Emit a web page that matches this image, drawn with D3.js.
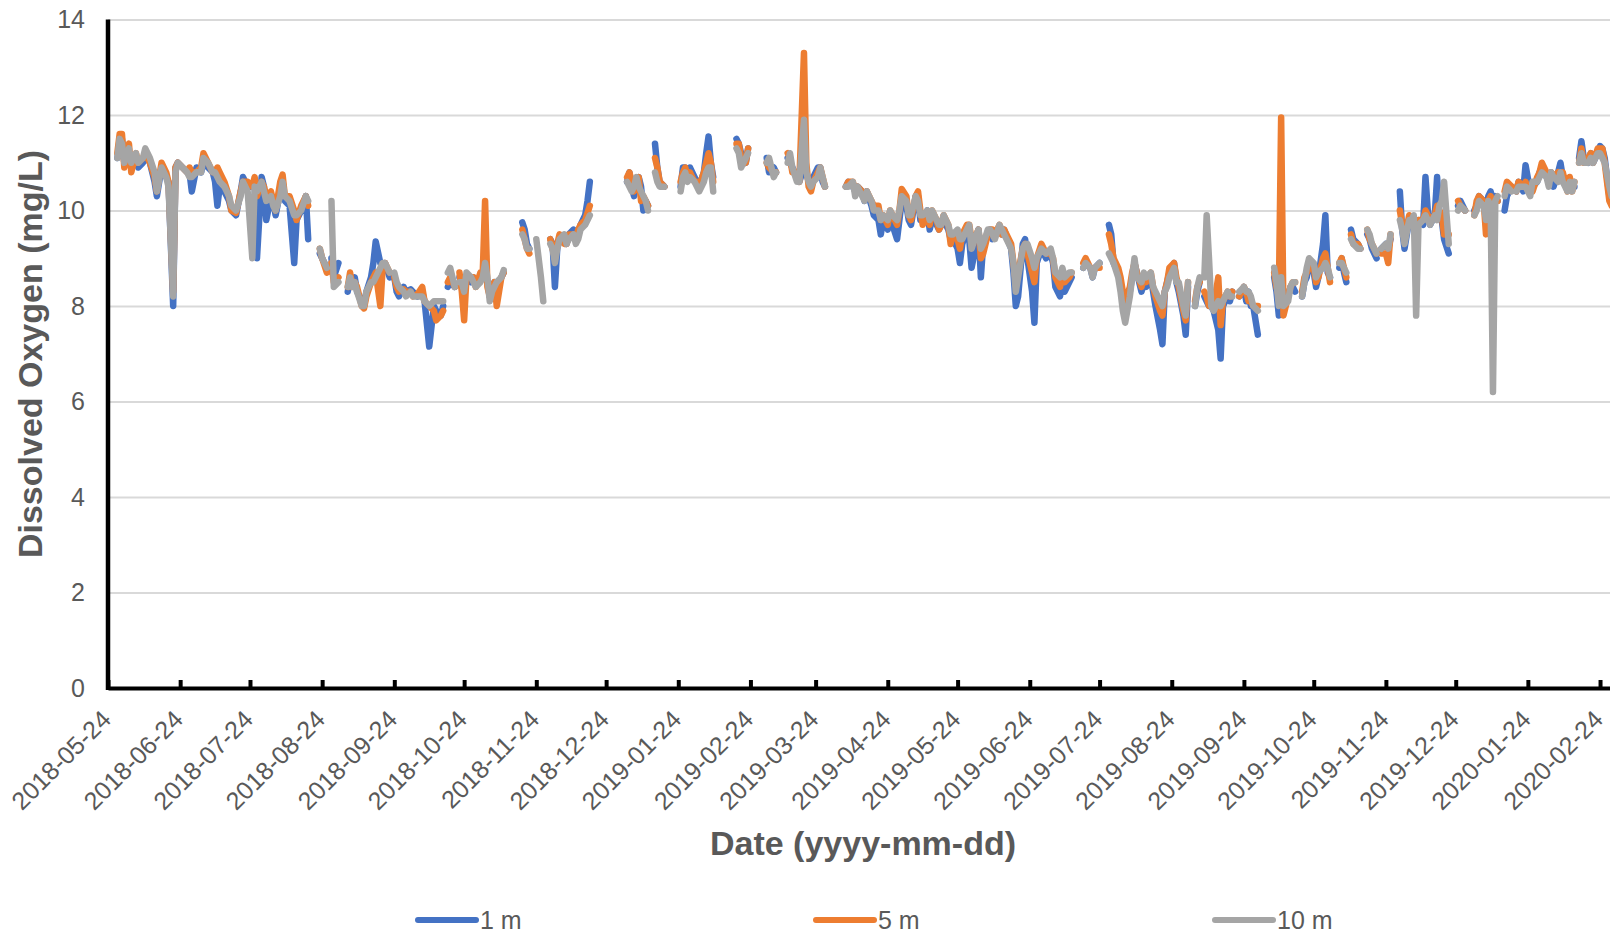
<!DOCTYPE html>
<html>
<head>
<meta charset="utf-8">
<script src="https://cdn.jsdelivr.net/npm/d3@7"></script>
<style>
  body { margin: 0; background: #fff; }
  svg { display: block; font-family: "Liberation Sans", Arial, sans-serif; }
</style>
</head>
<body>
<div id="chart"></div>
<script>
// sampling dates; a date with null in every series marks a break in the record
const dates = [
  "2018-05-28","2018-05-29","2018-05-30","2018-05-31","2018-06-02","2018-06-03","2018-06-05","2018-06-06","2018-06-08","2018-06-09",
  "2018-06-11","2018-06-13","2018-06-14","2018-06-16","2018-06-18","2018-06-19","2018-06-21","2018-06-22","2018-06-23","2018-06-25",
  "2018-06-27","2018-06-28","2018-06-29","2018-07-01","2018-07-03","2018-07-04","2018-07-06","2018-07-08","2018-07-09","2018-07-10",
  "2018-07-11","2018-07-13","2018-07-15","2018-07-16","2018-07-18","2018-07-20","2018-07-21","2018-07-23","2018-07-25","2018-07-26",
  "2018-07-27","2018-07-29","2018-07-30","2018-07-31","2018-08-02","2018-08-03","2018-08-04","2018-08-06","2018-08-07","2018-08-08",
  "2018-08-10","2018-08-12","2018-08-13","2018-08-15","2018-08-17","2018-08-18",
  "2018-08-20",
  "2018-08-23","2018-08-24","2018-08-26",
  "2018-08-27",
  "2018-08-28","2018-08-29","2018-08-31",
  "2018-09-02",
  "2018-09-04","2018-09-05","2018-09-06","2018-09-07","2018-09-08","2018-09-10","2018-09-11","2018-09-12","2018-09-14","2018-09-15",
  "2018-09-16","2018-09-18","2018-09-19","2018-09-20","2018-09-22",
  "2018-09-23",
  "2018-09-24","2018-09-25","2018-09-26","2018-09-28","2018-09-29","2018-10-01","2018-10-02","2018-10-04","2018-10-06","2018-10-07",
  "2018-10-09","2018-10-11","2018-10-12","2018-10-14","2018-10-15",
  "2018-10-16",
  "2018-10-17","2018-10-18","2018-10-20",
  "2018-10-21",
  "2018-10-22","2018-10-23","2018-10-24","2018-10-25","2018-10-27","2018-10-28","2018-10-29","2018-10-31","2018-11-01","2018-11-02",
  "2018-11-03","2018-11-04","2018-11-05","2018-11-06","2018-11-07","2018-11-09","2018-11-10",
  "2018-11-14",
  "2018-11-18","2018-11-19","2018-11-20","2018-11-21",
  "2018-11-22",
  "2018-11-24","2018-11-25","2018-11-26","2018-11-27",
  "2018-11-28",
  "2018-11-30","2018-12-01","2018-12-02","2018-12-03","2018-12-04","2018-12-06","2018-12-07","2018-12-08","2018-12-10","2018-12-11",
  "2018-12-12","2018-12-13","2018-12-15","2018-12-16","2018-12-17",
  "2018-12-25",
  "2019-01-02","2019-01-03","2019-01-04","2019-01-05","2019-01-06","2019-01-07","2019-01-08","2019-01-09","2019-01-10","2019-01-11",
  "2019-01-12",
  "2019-01-14","2019-01-15","2019-01-16","2019-01-18",
  "2019-01-20",
  "2019-01-25","2019-01-26","2019-01-27","2019-01-28","2019-01-29","2019-01-31","2019-02-01","2019-02-02","2019-02-04","2019-02-05",
  "2019-02-06","2019-02-07","2019-02-08",
  "2019-02-12",
  "2019-02-18","2019-02-19","2019-02-20","2019-02-22","2019-02-23",
  "2019-02-26",
  "2019-03-03","2019-03-04","2019-03-06","2019-03-07",
  "2019-03-09",
  "2019-03-12","2019-03-13","2019-03-14","2019-03-16","2019-03-17","2019-03-19","2019-03-20","2019-03-21","2019-03-22","2019-03-23",
  "2019-03-25","2019-03-26","2019-03-27","2019-03-28",
  "2019-04-01",
  "2019-04-06","2019-04-07","2019-04-09","2019-04-10","2019-04-11","2019-04-13","2019-04-14","2019-04-15","2019-04-17","2019-04-18",
  "2019-04-20","2019-04-21","2019-04-22","2019-04-24","2019-04-25","2019-04-26","2019-04-28","2019-04-29","2019-04-30","2019-05-02",
  "2019-05-03","2019-05-04","2019-05-06","2019-05-07","2019-05-08","2019-05-09","2019-05-11","2019-05-12","2019-05-13","2019-05-15",
  "2019-05-16","2019-05-17","2019-05-18","2019-05-20","2019-05-21","2019-05-22","2019-05-24","2019-05-25","2019-05-26","2019-05-28",
  "2019-05-29","2019-05-30","2019-06-01","2019-06-02","2019-06-03","2019-06-04","2019-06-06","2019-06-07","2019-06-08","2019-06-09",
  "2019-06-11","2019-06-12","2019-06-13","2019-06-16","2019-06-17","2019-06-18","2019-06-19","2019-06-21","2019-06-22","2019-06-23",
  "2019-06-25","2019-06-26","2019-06-27","2019-06-29","2019-07-01","2019-07-03","2019-07-04","2019-07-05","2019-07-07","2019-07-08",
  "2019-07-09","2019-07-11","2019-07-12",
  "2019-07-14",
  "2019-07-17","2019-07-18","2019-07-20","2019-07-21","2019-07-22","2019-07-24",
  "2019-07-26",
  "2019-07-28","2019-07-29","2019-07-30","2019-08-01","2019-08-02","2019-08-03","2019-08-04","2019-08-06","2019-08-07","2019-08-08",
  "2019-08-09","2019-08-11","2019-08-12","2019-08-13","2019-08-15","2019-08-16","2019-08-17","2019-08-19","2019-08-20","2019-08-21",
  "2019-08-22","2019-08-23","2019-08-25","2019-08-26","2019-08-27","2019-08-29","2019-08-30","2019-08-31",
  "2019-09-02",
  "2019-09-03","2019-09-04","2019-09-05",
  "2019-09-06",
  "2019-09-07","2019-09-08","2019-09-09","2019-09-10","2019-09-11","2019-09-13","2019-09-14","2019-09-15","2019-09-17","2019-09-18","2019-09-19",
  "2019-09-20",
  "2019-09-22","2019-09-24","2019-09-25","2019-09-26","2019-09-27","2019-09-28","2019-09-30",
  "2019-10-03",
  "2019-10-07","2019-10-08","2019-10-09","2019-10-10","2019-10-11","2019-10-13","2019-10-14","2019-10-15","2019-10-16",
  "2019-10-17",
  "2019-10-19","2019-10-20","2019-10-21","2019-10-22","2019-10-24","2019-10-25","2019-10-26","2019-10-28","2019-10-29","2019-10-30","2019-10-31",
  "2019-11-02",
  "2019-11-04","2019-11-05","2019-11-06","2019-11-07",
  "2019-11-08",
  "2019-11-09","2019-11-10","2019-11-12","2019-11-13",
  "2019-11-14",
  "2019-11-16","2019-11-17","2019-11-18","2019-11-20",
  "2019-11-21",
  "2019-11-22","2019-11-24","2019-11-25","2019-11-26",
  "2019-11-28",
  "2019-11-30","2019-12-01","2019-12-02","2019-12-04","2019-12-05","2019-12-06","2019-12-07","2019-12-08","2019-12-10","2019-12-11",
  "2019-12-12","2019-12-13","2019-12-15","2019-12-16","2019-12-17","2019-12-18","2019-12-19","2019-12-21",
  "2019-12-23",
  "2019-12-25","2019-12-26","2019-12-28",
  "2019-12-30",
  "2020-01-01","2020-01-02","2020-01-03","2020-01-05","2020-01-06","2020-01-07","2020-01-08","2020-01-09","2020-01-10","2020-01-11",
  "2020-01-12",
  "2020-01-14","2020-01-15","2020-01-17",
  "2020-01-18",
  "2020-01-19","2020-01-20","2020-01-22","2020-01-23","2020-01-25","2020-01-26","2020-01-28","2020-01-29","2020-01-30","2020-02-01",
  "2020-02-02","2020-02-03","2020-02-04","2020-02-06","2020-02-07","2020-02-08","2020-02-10","2020-02-11","2020-02-12","2020-02-13",
  "2020-02-14",
  "2020-02-15","2020-02-16","2020-02-17","2020-02-19","2020-02-20","2020-02-21","2020-02-23","2020-02-24","2020-02-25","2020-02-26","2020-02-28","2020-02-29"
];

const do1m = [
  11.1,11.3,11.5,11.0,11.2,11.0,11.1,10.9,11.0,11.2,
  11.0,10.6,10.3,10.9,10.7,10.6,8.0,10.9,11.0,10.9,
  10.8,10.8,10.4,10.9,10.8,11.0,10.9,10.8,10.6,10.1,
  10.5,10.4,10.2,10.0,9.9,10.4,10.7,10.5,10.5,10.6,
  9.0,10.7,10.5,9.8,10.3,10.2,9.9,10.4,10.6,10.2,
  10.1,8.9,9.8,10.0,10.3,9.4,
  null,
  9.1,9.0,8.8,
  null,
  9.0,8.6,8.9,
  null,
  8.3,8.6,8.5,8.6,8.3,8.1,8.0,8.3,8.6,8.9,
  9.35,8.9,8.8,8.9,8.6,
  null,
  8.6,8.3,8.2,8.4,8.3,8.35,8.3,8.2,8.3,8.1,
  7.15,8.0,7.9,7.8,8.0,
  null,
  8.4,8.5,8.4,
  null,
  8.6,8.6,8.5,8.6,8.5,8.6,8.5,8.6,8.6,8.8,
  8.5,8.2,8.3,8.5,8.3,8.6,8.7,
  null,
  9.75,9.6,9.3,9.2,
  null,
  null,null,null,null,
  null,
  9.4,9.3,8.4,9.2,9.4,9.4,9.3,9.5,9.6,9.4,
  9.5,9.7,9.9,10.2,10.6,
  null,
  10.6,10.8,10.5,10.3,10.6,10.7,10.5,10.0,10.2,10.1,
  null,
  11.4,10.9,10.6,10.5,
  null,
  10.5,10.9,10.9,10.8,10.9,10.7,10.6,10.5,10.8,11.2,
  11.55,11.0,10.7,
  null,
  11.5,11.4,11.2,11.0,11.3,
  null,
  11.1,10.8,10.9,10.8,
  null,
  11.1,11.0,10.9,10.7,10.6,10.9,10.8,10.6,10.5,10.7,
  10.9,10.9,10.6,10.5,
  null,
  10.5,10.6,10.5,10.4,10.5,10.4,10.2,10.4,10.1,9.9,
  9.8,9.5,9.8,9.6,9.9,9.7,9.4,9.8,10.2,10.1,
  9.8,9.7,10.3,10.3,9.8,9.8,10.0,9.6,9.8,9.7,
  9.6,9.7,9.8,9.6,9.4,9.4,9.2,8.9,9.3,9.6,
  9.4,8.8,9.3,9.6,8.6,9.3,9.5,9.6,9.4,9.5,
  9.6,9.5,9.6,9.2,8.7,8.0,8.2,9.3,9.4,9.0,
  8.3,7.65,8.9,9.2,9.0,9.1,8.9,8.4,8.2,8.6,
  8.3,8.5,8.6,
  null,
  8.8,8.9,8.8,8.6,8.8,8.9,
  null,
  9.7,9.5,8.9,8.7,8.5,8.1,7.9,8.3,8.6,8.9,
  8.7,8.3,8.5,8.4,8.6,8.3,8.0,7.5,7.2,8.3,
  8.5,8.7,8.9,8.5,8.3,7.8,7.4,8.4,
  null,
  8.0,8.3,8.5,
  null,
  8.2,8.1,8.0,8.0,7.9,7.5,6.9,8.0,8.2,8.1,8.3,
  null,
  8.2,8.4,8.1,8.3,8.0,8.0,7.4,
  null,
  8.6,8.3,7.8,7.9,8.0,8.2,8.4,8.4,8.3,
  null,
  8.2,8.5,8.6,8.9,8.7,8.4,8.6,9.3,9.9,8.7,8.6,
  null,
  8.8,9.0,8.7,8.5,
  null,
  9.6,9.4,9.3,9.2,
  null,
  9.5,9.4,9.2,9.0,
  null,
  9.2,9.3,9.2,9.4,
  null,
  10.4,9.6,9.2,9.8,9.8,9.8,9.7,9.8,9.7,10.7,
  10.0,9.7,9.9,10.7,9.9,9.8,9.4,9.1,
  null,
  10.1,10.2,10.0,
  null,
  10.0,10.1,10.3,10.2,9.9,10.3,10.4,10.2,10.3,10.2,
  null,
  10.0,10.3,10.5,
  null,
  10.4,10.6,10.4,10.95,10.4,10.5,10.6,10.8,10.9,10.7,
  10.6,10.8,10.5,10.8,11.0,10.7,10.5,10.6,10.5,10.5,
  null,
  11.1,11.45,11.1,11.0,11.2,11.0,11.2,11.35,11.3,11.1,10.3,10.2
];

const do5m = [
  11.2,11.6,11.6,10.9,11.4,10.8,11.2,11.0,11.1,11.2,
  11.0,10.7,10.4,11.0,10.8,10.6,8.3,10.9,11.0,10.9,
  10.8,10.9,10.8,10.8,10.9,11.2,11.0,10.8,10.8,10.9,
  10.8,10.6,10.3,10.0,9.95,10.4,10.6,10.6,10.5,10.7,
  10.3,10.6,10.5,10.3,10.4,10.2,10.0,10.6,10.75,10.3,
  10.3,10.0,9.8,10.1,10.3,10.1,
  null,
  9.2,9.0,8.7,
  null,
  8.9,8.5,8.6,
  null,
  8.4,8.7,8.4,8.5,8.4,8.0,7.95,8.2,8.5,8.6,
  8.7,8.0,8.8,8.9,8.7,
  null,
  8.6,8.4,8.3,8.35,8.3,8.3,8.2,8.25,8.4,8.1,
  8.0,7.9,7.7,7.8,7.9,
  null,
  8.5,8.6,8.4,
  null,
  8.7,8.3,7.7,8.6,8.6,8.6,8.4,8.7,8.7,10.2,
  8.4,8.2,8.4,8.5,8.0,8.6,8.7,
  null,
  9.6,9.4,9.2,9.1,
  null,
  null,null,null,null,
  null,
  9.4,9.2,9.0,9.3,9.5,9.3,9.3,9.5,9.5,9.4,
  9.6,9.7,9.8,9.95,10.1,
  null,
  10.7,10.8,10.6,10.4,10.5,10.7,10.2,10.3,10.2,10.1,
  null,
  11.1,10.9,10.6,10.5,
  null,
  10.6,10.8,10.9,10.7,10.8,10.6,10.6,10.5,10.8,11.0,
  11.2,11.0,10.6,
  null,
  11.4,11.4,11.1,11.0,11.3,
  null,
  11.0,10.9,10.8,10.8,
  null,
  11.2,11.1,10.8,10.8,10.6,13.3,11.0,10.5,10.4,10.6,
  10.8,10.9,10.7,10.5,
  null,
  10.5,10.6,10.6,10.4,10.5,10.4,10.3,10.4,10.2,10.1,
  10.1,9.8,9.9,9.7,10.0,9.9,9.7,10.0,10.45,10.3,
  9.9,9.8,10.3,10.4,10.0,9.7,9.9,9.7,10.0,9.8,
  9.6,9.7,9.9,9.7,9.3,9.5,9.4,9.2,9.5,9.7,
  9.7,9.4,9.5,9.6,9.0,9.1,9.5,9.6,9.6,9.5,
  9.7,9.5,9.6,9.3,8.9,8.5,8.7,9.2,9.3,9.1,
  8.7,8.5,9.0,9.3,9.1,9.1,9.0,8.6,8.4,8.7,
  8.5,8.6,8.7,
  null,
  8.9,9.0,8.8,8.7,8.8,8.8,
  null,
  9.5,9.3,9.0,8.8,8.6,8.3,8.1,8.4,8.7,8.9,
  8.7,8.4,8.6,8.5,8.7,8.4,8.2,7.9,7.8,8.3,
  8.5,8.8,8.9,8.6,8.4,7.9,7.7,8.5,
  null,
  8.1,8.4,8.5,
  null,
  8.3,8.2,8.0,8.0,8.0,8.6,7.6,8.1,8.3,8.2,8.3,
  null,
  8.2,8.4,8.3,8.1,8.1,8.0,8.0,
  null,
  8.7,8.4,8.2,11.95,7.8,8.2,8.4,8.5,8.5,
  null,
  8.3,8.6,8.7,8.8,8.8,8.5,8.6,9.0,9.1,8.8,8.5,
  null,
  8.9,9.0,8.8,8.6,
  null,
  9.5,9.3,9.3,9.2,
  null,
  9.6,9.4,9.3,9.1,
  null,
  9.1,9.1,8.9,9.5,
  null,
  10.0,9.7,9.4,9.9,9.8,9.8,9.7,9.8,9.8,10.0,
  9.9,9.8,9.9,10.1,10.0,9.9,9.5,9.5,
  null,
  10.2,10.1,10.0,
  null,
  9.9,10.2,10.3,10.2,9.5,10.2,10.3,10.1,10.2,10.2,
  null,
  10.4,10.6,10.5,
  null,
  10.4,10.6,10.5,10.6,10.4,10.4,10.7,10.8,11.0,10.8,
  10.6,10.8,10.7,10.8,10.7,10.8,10.4,10.7,10.4,10.6,
  null,
  11.0,11.3,11.0,11.1,11.2,11.0,11.3,11.3,11.3,11.0,10.2,10.1
];

const do10m = [
  11.1,11.5,11.4,11.0,11.3,11.0,11.2,11.0,11.1,11.3,
  11.1,10.8,10.4,10.9,10.7,10.5,8.2,10.8,11.0,10.9,
  10.8,10.7,10.7,10.8,10.8,11.1,11.0,10.8,10.8,10.7,
  10.6,10.5,10.3,10.1,10.0,10.3,10.6,10.4,9.0,10.5,
  10.4,10.6,10.4,10.2,10.3,10.1,10.0,10.3,10.6,10.3,
  10.2,9.9,9.9,10.0,10.3,10.2,
  null,
  9.2,9.0,8.8,
  null,
  10.2,8.4,8.5,
  null,
  8.4,8.6,8.4,8.5,8.3,8.0,8.0,8.3,8.5,8.5,
  8.6,8.8,8.9,8.9,8.7,
  null,
  8.7,8.5,8.4,8.3,8.2,8.3,8.2,8.2,8.2,8.1,
  8.0,8.1,8.1,8.1,8.1,
  null,
  8.7,8.8,8.4,
  null,
  8.5,8.5,8.3,8.7,8.6,8.5,8.4,8.5,8.6,8.9,
  8.6,8.1,8.3,8.4,8.5,8.6,8.75,
  null,
  9.5,9.4,9.2,9.2,
  null,
  9.4,9.0,8.6,8.1,
  null,
  9.3,9.2,8.9,9.2,9.4,9.5,9.3,9.4,9.5,9.3,
  9.4,9.6,9.7,9.8,9.9,
  null,
  10.6,10.5,10.4,10.5,10.7,10.5,10.4,10.3,10.2,10.0,
  null,
  10.8,10.6,10.5,10.5,
  null,
  10.4,10.7,10.8,10.6,10.7,10.6,10.5,10.4,10.6,10.8,
  10.9,10.9,10.4,
  null,
  11.3,11.2,10.9,11.1,11.2,
  null,
  11.0,11.1,10.7,10.8,
  null,
  11.0,11.2,10.9,10.6,10.6,11.9,10.8,10.6,10.5,10.6,
  10.7,10.9,10.7,10.5,
  null,
  10.5,10.5,10.6,10.3,10.5,10.3,10.2,10.4,10.2,10.0,
  10.0,9.8,9.9,9.8,10.0,9.9,9.8,10.0,10.3,10.2,
  9.9,9.9,10.3,10.2,9.9,9.9,10.0,9.8,10.0,9.8,
  9.7,9.7,9.9,9.7,9.5,9.5,9.6,9.4,9.4,9.6,
  9.7,9.2,9.5,9.6,9.2,9.3,9.6,9.6,9.5,9.4,
  9.7,9.6,9.5,9.2,8.9,8.3,8.6,9.2,9.3,9.3,
  9.0,8.8,9.0,9.2,9.1,9.2,9.0,8.7,8.6,8.8,
  8.6,8.7,8.7,
  null,
  8.8,8.9,8.8,8.6,8.8,8.9,
  null,
  9.1,9.0,8.9,8.6,8.3,7.9,7.65,8.2,8.6,9.0,
  8.6,8.5,8.7,8.6,8.7,8.4,8.3,8.1,8.0,8.3,
  8.4,8.6,8.8,8.5,8.5,8.0,7.8,8.5,
  null,
  8.0,8.4,8.6,
  null,
  8.6,9.9,9.0,8.0,7.9,8.1,8.0,8.1,8.3,8.2,8.2,
  null,
  8.3,8.4,8.3,8.3,8.2,8.0,7.9,
  null,
  8.8,8.5,8.0,8.6,8.0,8.1,8.4,8.5,8.5,
  null,
  8.2,8.5,8.8,9.0,8.9,8.6,8.7,8.8,8.9,8.8,8.6,
  null,
  8.9,8.9,8.8,8.7,
  null,
  9.4,9.3,9.2,9.2,
  null,
  9.6,9.5,9.3,9.1,
  null,
  9.2,9.3,9.2,9.5,
  null,
  9.8,9.6,9.3,9.8,9.8,9.9,7.8,9.7,9.8,9.9,
  9.8,9.7,9.9,9.8,10.1,10.2,10.6,9.3,
  null,
  10.0,10.1,10.0,
  null,
  9.9,10.0,10.2,10.1,9.8,10.2,10.1,6.2,10.2,10.3,
  null,
  10.3,10.5,10.4,
  null,
  10.4,10.5,10.5,10.5,10.3,10.6,10.6,10.7,10.8,10.7,
  10.5,10.8,10.7,10.6,10.8,10.6,10.4,10.6,10.4,10.6,
  null,
  11.0,11.2,11.0,11.0,11.1,11.0,11.2,11.2,11.1,11.0,10.5,10.3
];

const seriesNames = ["1 m", "5 m", "10 m"];
const seriesColors = ["#4472C4", "#ED7D31", "#A5A5A5"];
const tickLabels = [
  "2018-05-24","2018-06-24","2018-07-24","2018-08-24","2018-09-24","2018-10-24","2018-11-24","2018-12-24",
  "2019-01-24","2019-02-24","2019-03-24","2019-04-24","2019-05-24","2019-06-24","2019-07-24","2019-08-24",
  "2019-09-24","2019-10-24","2019-11-24","2019-12-24","2020-01-24","2020-02-24"
];
const yTicks = [0, 2, 4, 6, 8, 10, 12, 14];

const width = 1610, height = 934;
const plotLeft = 108, plotTop = 19.5, plotBottom = 688;
const parseDate = d3.utcParse("%Y-%m-%d");
const fmt = d3.utcFormat("%Y-%m-%d");

const svg = d3.select("#chart").append("svg")
    .attr("width", width)
    .attr("height", height);
svg.append("rect").attr("width", width).attr("height", height).attr("fill", "#fff");

// axis range runs a few days past the last tick, the plot is cut by the right edge
const x = d3.scaleUtc()
    .domain([parseDate("2018-05-24"), parseDate("2020-03-01")])
    .range([plotLeft, 1614]);
const y = d3.scaleLinear()
    .domain([0, 14])
    .range([plotBottom, plotTop]);

// gridlines + y labels
const yAxis = svg.append("g")
    .attr("transform", `translate(${plotLeft},0)`)
    .call(d3.axisLeft(y).tickValues(yTicks).tickSize(-(width - plotLeft)).tickPadding(23))
    .call(g => g.select(".domain").remove());
yAxis.selectAll(".tick line").attr("stroke", "#d9d9d9").attr("stroke-width", 2);
yAxis.selectAll(".tick text")
    .attr("fill", "#595959")
    .style("font-size", "25px")
    .attr("font-family", "Liberation Sans, Arial, sans-serif");

// series
const line = d3.line()
    .defined(d => d[1] !== null)
    .x(d => x(parseDate(d[0])))
    .y(d => y(d[1]));

const plot = svg.append("g");
[do1m, do5m, do10m].forEach((vals, i) => {
    plot.append("path")
        .datum(dates.map((dt, k) => [dt, vals[k]]))
        .attr("d", line)
        .attr("fill", "none")
        .attr("stroke", seriesColors[i])
        .attr("stroke-width", 6.5)
        .attr("stroke-linejoin", "round")
        .attr("stroke-linecap", "round");
});

// x axis
const xAxis = svg.append("g")
    .attr("transform", `translate(0,${plotBottom})`)
    .call(d3.axisBottom(x)
        .tickValues(tickLabels.map(parseDate))
        .tickFormat(fmt)
        .tickSizeInner(-8)
        .tickSizeOuter(0));
xAxis.select(".domain").attr("stroke", "#000").attr("stroke-width", 4);
xAxis.selectAll(".tick line").attr("stroke", "#000").attr("stroke-width", 4);
xAxis.selectAll(".tick text")
    .attr("fill", "#595959")
    .style("font-size", "25px")
    .attr("font-family", "Liberation Sans, Arial, sans-serif")
    .attr("text-anchor", "end")
    .attr("x", null).attr("y", null).attr("dy", null)
    .attr("transform", "translate(4,33) rotate(-45)");

// y axis line
svg.append("line")
    .attr("x1", plotLeft).attr("x2", plotLeft)
    .attr("y1", y(14)).attr("y2", y(0) + 2)
    .attr("stroke", "#000")
    .attr("stroke-width", 4.5);

// axis titles
svg.append("text")
    .attr("x", 863).attr("y", 855)
    .attr("text-anchor", "middle")
    .attr("fill", "#595959")
    .style("font-size", "34px")
    .style("font-weight", "bold")
    .text("Date (yyyy-mm-dd)");

svg.append("text")
    .attr("transform", "translate(42,354) rotate(-90)")
    .attr("text-anchor", "middle")
    .attr("fill", "#595959")
    .style("font-size", "34px")
    .style("font-weight", "bold")
    .text("Dissolved Oxygen (mg/L)");

// legend
const legendX = [418, 816, 1215];
const legend = svg.append("g").selectAll("g")
    .data(seriesNames)
    .join("g")
    .attr("transform", (d, i) => `translate(${legendX[i]},920)`);
legend.append("line")
    .attr("x1", 0).attr("x2", 58)
    .attr("stroke", (d, i) => seriesColors[i])
    .attr("stroke-width", 6)
    .attr("stroke-linecap", "round");
legend.append("text")
    .attr("x", 62).attr("y", 9)
    .attr("fill", "#595959")
    .style("font-size", "25px")
    .text(d => d);
</script>
</body>
</html>
